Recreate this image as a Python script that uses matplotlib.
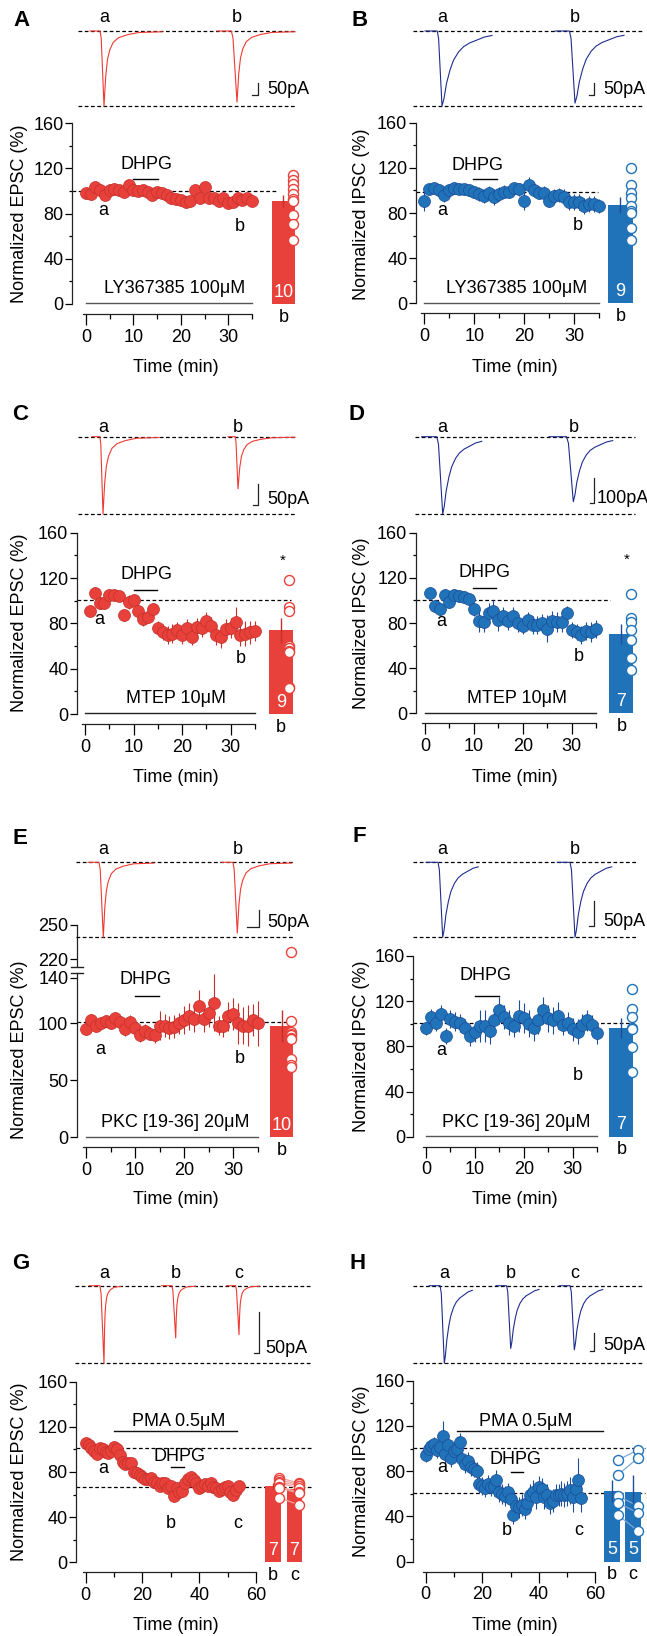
import matplotlib
matplotlib.use('Agg')
import matplotlib.pyplot as plt
from matplotlib.lines import Line2D
import numpy as np

plt.rcParams['font.family'] = ['Liberation Sans', 'DejaVu Sans']
plt.rcParams['font.size'] = 13
plt.rcParams['axes.linewidth'] = 0.9
plt.rcParams['axes.edgecolor'] = '#222222'

W, H = 647, 1636

RED = '#e8413b'
RED_EDGE = '#c4302a'
RED_LIGHT = '#f2a29d'
RED_TRACE = '#ee3a32'
BLUE = '#2173b9'
BLUE_EDGE = '#1d4c98'
BLUE_LIGHT = '#7ea9d8'
BLUE_TRACE = '#1f2d8f'

# ---------------- data ----------------
# A: EPSC, LY367385
A_epsc = [98, 97, 103, 101, 96, 101, 102, 101, 99, 105, 101, 100, 101, 99, 96, 99, 98, 96,
          94, 93, 92, 90, 91, 101, 94, 103, 94, 94, 91, 94, 89, 90, 94, 92, 94, 91]
A_sem = [3, 3, 4, 3, 3, 3, 3, 4, 3, 4, 3, 3, 3, 3, 3, 3, 3, 3,
         3, 3, 4, 3, 3, 4, 3, 4, 3, 3, 4, 3, 3, 3, 3, 4, 3, 3]
A_cells = [114, 110, 106, 102, 97, 93, 91, 79, 71, 57]
A_mean, A_err = 91, 5
A_trace_pA = [312, 296]

# B: IPSC, LY367385
B_ipsc = [91, 101, 102, 100, 96, 100, 102, 101, 101, 100, 99, 97, 95, 98, 94, 97, 99, 99,
          102, 101, 91, 105, 100, 98, 98, 91, 95, 96, 94, 90, 90, 90, 86, 88, 88, 86]
B_sem = [9, 5, 5, 5, 6, 5, 5, 5, 5, 5, 5, 6, 6, 6, 7, 6, 6, 5,
         5, 6, 8, 7, 6, 6, 6, 6, 6, 6, 7, 7, 7, 7, 7, 7, 7, 6]
B_cells = [120, 105, 98, 93, 86, 82, 80, 67, 56]
B_mean, B_err = 87, 7
B_trace_pA = [312, 300]

# C: EPSC, MTEP (first point at 1 min)
C_epsc = [91, 107, 98, 98, 105, 105, 104, 87, 99, 101, 91, 84, 86, 93, 76, 72, 70, 71,
          74, 70, 76, 68, 77, 76, 82, 78, 70, 68, 75, 76, 81, 70, 71, 72, 73]
C_sem = [4, 5, 5, 5, 5, 4, 4, 5, 6, 5, 6, 6, 6, 5, 6, 7, 8, 8,
         7, 8, 8, 7, 8, 8, 8, 8, 9, 10, 9, 9, 13, 10, 11, 10, 9]
C_cells = [118, 94, 91, 60, 58, 56, 55, 24, 23]
C_mean, C_err = 74, 11
C_trace_pA = [184, 124]

# D: IPSC, MTEP (first point at 1 min)
D_ipsc = [107, 95, 92, 105, 99, 105, 104, 103, 101, 92, 82, 81, 89, 91, 83, 86, 82, 86,
          80, 77, 83, 78, 78, 80, 75, 82, 81, 81, 89, 74, 72, 69, 73, 72, 75]
D_sem = [5, 5, 6, 5, 6, 5, 5, 5, 5, 6, 10, 9, 9, 9, 10, 8, 8, 8,
         8, 7, 7, 8, 8, 8, 12, 9, 9, 9, 6, 7, 7, 8, 8, 9, 8]
D_cells = [106, 84, 81, 74, 65, 49, 38]
D_mean, D_err = 70, 9
D_trace_pA = [302, 254]

# E: EPSC, PKC [19-36]
E_epsc = [95, 103, 98, 100, 102, 100, 105, 101, 95, 101, 96, 90, 93, 91, 90, 98, 98, 96,
          97, 100, 103, 106, 104, 115, 104, 109, 118, 98, 98, 106, 108, 100, 98, 98, 103, 100]
E_sem = [5, 5, 5, 5, 5, 5, 5, 5, 6, 6, 6, 6, 6, 6, 7, 13, 10, 10,
         10, 9, 12, 12, 12, 14, 12, 12, 25, 8, 10, 13, 14, 18, 16, 18, 14, 20]
E_cells = [226, 102, 92, 91, 90, 87, 86, 69, 63, 62]
E_mean, E_err = 98, 14
E_trace_pA = [217, 205]

# F: IPSC, PKC [19-36]
F_ipsc = [96, 106, 101, 109, 89, 104, 102, 101, 96, 89, 93, 98, 98, 94, 103, 112, 106, 101,
          98, 107, 105, 100, 96, 103, 112, 105, 103, 107, 99, 101, 95, 93, 99, 103, 99, 92]
F_sem = [6, 7, 7, 8, 7, 8, 8, 8, 8, 9, 9, 14, 14, 12, 10, 12, 11, 11,
         10, 14, 13, 12, 11, 12, 12, 12, 12, 12, 9, 9, 10, 11, 10, 9, 9, 10]
F_cells = [131, 113, 106, 96, 95, 79, 57]
F_mean, F_err = 96, 9
F_trace_pA = [150, 150]

# G: EPSC, PMA
G_epsc = [106, 104, 101, 99, 96, 101, 100, 98, 97, 99, 102, 100, 95, 89, 87, 88, 88, 80,
          79, 77, 76, 74, 74, 75, 71, 70, 68, 70, 70, 66, 68, 59, 66, 62, 63, 70, 74, 76,
          73, 70, 66, 68, 69, 68, 70, 67, 66, 63, 65, 67, 68, 62, 60, 64, 68]
G_sem = [3, 3, 3, 3, 3, 3, 3, 3, 3, 3, 3, 3, 3, 3, 3, 3, 3, 3, 3, 3, 3, 3, 3, 3, 3,
         3, 3, 3, 3, 3, 3, 4, 3, 3, 3, 4, 5, 4, 3, 3, 3, 3, 3, 3, 3, 3, 3, 3, 3, 3,
         3, 3, 3, 3, 4]
G_cells_b = [75, 73, 71, 70, 67, 66, 57]
G_cells_c = [70, 69, 68, 66, 62, 61, 51]
G_mean, G_err = [67.6, 65], [3, 3]
G_trace_pA = [95, 64, 60]

# H: IPSC, PMA
H_ipsc = [94, 100, 102, 104, 99, 101, 111, 95, 103, 92, 98, 100, 106, 91, 86, 89, 84, 82,
          80, 69, 67, 65, 69, 66, 67, 72, 62, 60, 58, 62, 55, 41, 49, 48, 50, 47, 52, 59,
          62, 57, 66, 64, 57, 59, 52, 54, 59, 59, 60, 59, 60, 63, 57, 64, 72, 56]
H_sem = [6, 6, 6, 6, 7, 7, 13, 8, 8, 8, 8, 9, 8, 8, 8, 8, 8, 7, 8, 8, 8, 8, 8, 8, 9,
         9, 9, 9, 9, 8, 9, 8, 8, 9, 10, 9, 10, 10, 10, 10, 10, 10, 10, 10, 10, 10, 10, 10,
         11, 11, 11, 12, 13, 11, 20, 12]
H_cells_b = [90, 77, 58, 52, 41]
H_cells_c = [99, 92, 49, 43, 27]
H_mean, H_err = [62.5, 61.3], [10, 15]
H_trace_pA = [219, 177, 181]

# trace template (fraction of window, fraction of peak)
RISE_U = [0.0, 0.72, 0.8, 1.0]
RISE_I = [0.0, 0.0, -0.1, -1.0]
EPSC_V = [0, 0.03, 0.06, 0.1, 0.16, 0.25, 0.4, 0.6, 1.0]
EPSC_I = [-1, -0.6, -0.38, -0.25, -0.15, -0.09, -0.05, -0.02, -0.01]
IPSC_V = [0, 0.04, 0.09, 0.16, 0.23, 0.33, 0.43, 0.55, 0.7, 0.85, 1.0]
IPSC_I = [-1, -0.9, -0.7, -0.52, -0.39, -0.28, -0.21, -0.16, -0.12, -0.08, -0.06]

# ---------------- layout (pixels) ----------------
P = {
    'A': dict(spine=72, x0=86, ppu=4.74, right=300, y0=304, ytop=123, letter=(21, 21),
              ylabel=(20, 214), xlabel=(176, 368),
              trace_box=(78, 31, 295, 106), trace_win=[(90, 104, 162), (217, 237, 295)],
              trace_lbl_y=18, scalebar=(258, 95, 6), sb_dx=9,
              bar_x=[41.65], bar_w=4.9, cell_x=[43.7], ref=[100], ref_end=40.5,
              dhpg=(12.7, 123, 10, 15.2, 110.7), drug=(18.8, 13.9, 0, 35, 1),
              ab=[(3.6, 83), (32.5, 68.5)], star=None),
    'B': dict(spine=415.7, x0=424.3, ppu=5.0, right=640, y0=303.3, ytop=122.7, letter=(360, 21),
              ylabel=(362, 214), xlabel=(515, 368),
              trace_box=(413, 31, 642, 106), trace_win=[(425, 442, 492), (555, 575, 624)],
              trace_lbl_y=18, scalebar=(594, 95, 5), sb_dx=9,
              bar_x=[39.2], bar_w=5.0, cell_x=[41.3], ref=[99], ref_end=34.8,
              dhpg=(10.7, 122.5, 9.8, 14.6, 110), drug=(18.5, 12.7, 0, 35, 0.5),
              ab=[(3.5, 82.6), (30.7, 69)], star=None),
    'C': dict(spine=76.7, x0=85, ppu=4.857, right=300, y0=714, ytop=532.7, letter=(20, 415),
              ylabel=(20, 623), xlabel=(176, 778),
              trace_box=(78, 436.7, 295, 514), trace_win=[(92, 103, 159), (228, 238, 295)],
              trace_lbl_y=428, scalebar=(258, 505, 5), sb_dx=9,
              bar_x=[40.35], bar_w=4.9, cell_x=[42.1], ref=[101], ref_end=42.4,
              dhpg=(12.6, 123.5, 10, 14.8, 109), drug=(18.7, 14, 0, 35, 1),
              ab=[(3, 83), (32, 49)], star=(40.8, 135)),
    'D': dict(spine=415.7, x0=425, ppu=4.89, right=640, y0=713.3, ytop=532.7, letter=(356.7, 415),
              ylabel=(362, 623), xlabel=(515, 778),
              trace_box=(415, 436.7, 635, 514), trace_win=[(421.7, 442.7, 481.7), (549, 573.3, 612.7)],
              trace_lbl_y=428, scalebar=(594, 503.3, 4), sb_dx=3,
              bar_x=[40.15], bar_w=4.9, cell_x=[42.1], ref=[100], ref_end=37.8,
              dhpg=(12.2, 124.5, 9.75, 14.6, 110.7), drug=(18.75, 13, 0, 35, 0.5),
              ab=[(3.4, 81), (31.5, 50)], star=(41.3, 136)),
    'E': dict(spine=76.7, x0=86, ppu=4.91, right=300, y0=1137.3, yppu=1.14, letter=(20, 838.3),
              ylabel=(20, 1050), xlabel=(176, 1200),
              trace_box=(76, 862.3, 293, 937.3), trace_win=[(88, 103.3, 154), (221.7, 237.3, 291.7)],
              trace_lbl_y=850, scalebar=(259.3, 927.3, 12), sb_dx=8,
              bar_x=[39.85], bar_w=4.7, cell_x=[41.7], ref=[101.4], ref_end=42.2,
              dhpg=(12.2, 138.6, 10, 14.9, 124), drug=(18.1, 12.8, 0, 35, 0.5),
              ab=[(2.85, 76.6), (31.4, 69.3)], star=None),
    'F': dict(spine=413.3, x0=426, ppu=4.89, right=640, y0=1136.7, ytop=956, letter=(359.3, 836.7),
              ylabel=(362, 1046), xlabel=(515, 1200),
              trace_box=(413.3, 862.3, 636, 937.3), trace_win=[(426, 442.7, 478.3), (557.3, 575, 611.7)],
              trace_lbl_y=850, scalebar=(594, 926, 5), sb_dx=9,
              bar_x=[39.95], bar_w=4.9, cell_x=[42.1], ref=[100.4], ref_end=42.5,
              dhpg=(12.2, 143, 10, 15, 124.8), drug=(18.4, 12.4, 0, 35, 0.5),
              ab=[(3.2, 76), (31, 54.6)], star=None),
    'G': dict(spine=76, x0=85.7, ppu=2.839, right=312, y0=1562.3, ytop=1381.7, letter=(20.7, 1263.3),
              ylabel=(20, 1472), xlabel=(176, 1626),
              trace_box=(75, 1285.7, 310, 1363.3),
              trace_win=[(89.3, 104, 120.7), (161.7, 175.7, 195.7), (226.7, 239, 259.3)],
              trace_lbl_y=1274, scalebar=(259.3, 1353.3, 5), sb_dx=6.5,
              bar_x=[66.05, 73.55], bar_w=5.5, cell_x=[68.2, 75.2], ref=[101.5, 66.4], ref_end=79.2,
              dhpg=(33.2, 94, 30, 34.7, 84.7), pma=(32.6, 124.5, 10, 53.4, 116.3),
              ab=[(6.2, 83), (30, 34), (53.4, 34)], star=None),
    'H': dict(spine=413.3, x0=425.7, ppu=2.827, right=647, y0=1561.7, ytop=1380.7, letter=(357.3, 1263.3),
              ylabel=(362, 1471), xlabel=(515, 1626),
              trace_box=(413.3, 1285.7, 641.7, 1363.3),
              trace_win=[(429.3, 444.3, 472.3), (496, 510.7, 539), (559.3, 574.3, 602.7)],
              trace_lbl_y=1274, scalebar=(594, 1351, 4), sb_dx=9,
              bar_x=[65.95, 73.35], bar_w=5.7, cell_x=[68.1, 75.2], ref=[100.8, 60.4], ref_end=77.6,
              dhpg=(31.9, 90, 30, 34.5, 79), pma=(35.5, 123.8, 11, 62.6, 115.5),
              ab=[(5.8, 83.4), (28.6, 28), (54, 28)], star=None),
}

MS = 8.6      # time-course marker size (pt)
CELL_MS = 7.2

fig = plt.figure(figsize=(W / 100, H / 100), dpi=100)


def rect(l, t, r, b):
    return [l / W, 1 - b / H, (r - l) / W, (b - t) / H]


def ptext(x, y, s, **kw):
    kw.setdefault('ha', 'center')
    kw.setdefault('va', 'center')
    fig.text(x / W, 1 - y / H, s, **kw)


def make_axes(L, ylim, top_px, bottom_px):
    ax = fig.add_axes(rect(L['spine'], top_px, L['right'], bottom_px))
    ax.set_xlim((L['spine'] - L['x0']) / L['ppu'], (L['right'] - L['x0']) / L['ppu'])
    ax.set_ylim(*ylim)
    ax.patch.set_visible(False)
    for s in ('top', 'right'):
        ax.spines[s].set_visible(False)
    return ax


def value_axis(ax, bounds, major, minor):
    ax.spines['left'].set_bounds(*bounds)
    ax.set_yticks(major)
    ax.set_yticks(minor, minor=True)
    ax.tick_params(axis='y', which='major', length=5, width=0.9, pad=1, labelsize=13)
    ax.tick_params(axis='y', which='minor', length=2.5, width=0.9)


def time_axis(ax, start, end, major, minor):
    ax.spines['bottom'].set_position(('outward', 7.2))
    ax.spines['bottom'].set_bounds(start, end)
    ax.set_xticks(major)
    ax.set_xticks(minor, minor=True)
    ax.tick_params(axis='x', which='major', length=8, width=0.9, pad=2.5, labelsize=13)
    ax.tick_params(axis='x', which='minor', length=3.5, width=0.9)


def timecourse(ax, t, v, sem, face, edge):
    ax.errorbar(t, v, yerr=sem, fmt='none', ecolor=edge, elinewidth=0.8, capsize=0,
                zorder=2, clip_on=False)
    ax.plot(t, v, 'o', ms=MS, mfc=face, mec=edge, mew=0.5, zorder=3, clip_on=False)


def summary(ax, xc, width, mean, err, cells, cx, face, edge, below, name):
    ax.bar(xc, mean, width, color=face, zorder=2)
    ax.errorbar(xc, mean, yerr=err, fmt='none', ecolor=edge, elinewidth=1, capsize=0, zorder=3)
    ax.plot(np.full(len(cells), cx), cells, 'o', ms=CELL_MS, mfc='white', mec=face, mew=1,
            zorder=4)
    ax.text(xc, 10.5, str(len(cells)), color='white', ha='center', va='center', zorder=5)
    ax.text(xc, below, name, ha='center', va='center', clip_on=False)


def annotate(ax, L, drug_name, drug_color):
    x, y, x1, x2, yl = L['dhpg']
    ax.text(x, y, 'DHPG', ha='center', va='center')
    ax.plot([x1, x2], [yl, yl], color='k', lw=1, clip_on=False)
    if drug_name.startswith('PMA'):
        x, y, x1, x2, yl = L['pma']
    else:
        x, y, x1, x2, yl = L['drug']
    ax.text(x, y, drug_name, ha='center', va='center')
    ax.plot([x1, x2], [yl, yl], color=drug_color, lw=1, clip_on=False)
    for (x, y), s in zip(L['ab'], 'abc'):
        ax.text(x, y, s, ha='center', va='center')
    if L['star']:
        ax.text(L['star'][0], L['star'][1], '*', ha='center', va='center', fontsize=11)
    x0 = ax.get_xlim()[0]
    for r in L['ref']:
        ax.plot([x0, L['ref_end']], [r, r], color='k', lw=0.9, dashes=(3, 2), zorder=1,
                clip_on=False)


def traces(key, amps, color, dec_v, dec_i, scale_pa, scale_txt):
    L = P[key]
    l, t, r, b = L['trace_box']
    ax = fig.add_axes(rect(l, t, r, b))
    ax.set_xlim(l, r)
    ax.set_ylim(-amps[0], 0)
    ax.axis('off')
    for yv in (0, -amps[0]):
        ax.axhline(yv, color='k', lw=0.9, dashes=(3, 2), clip_on=False)
    ru = np.array(RISE_U)
    dv = np.array(dec_v)
    for (s, p, e), amp, nm in zip(L['trace_win'], amps, 'abc'):
        x = np.concatenate([s + ru * (p - s), p + dv[1:] * (e - p)])
        y = amp * np.concatenate([RISE_I, dec_i[1:]])
        ax.plot(x, y, color=color, lw=0.8, clip_on=False)
        ptext(p, L['trace_lbl_y'], nm)
    sx, sby, foot = L['scalebar']
    yb = -(sby - t) / (b - t) * amps[0]
    ax.plot([sx - foot, sx, sx], [yb, yb, yb + scale_pa], color='#222222', lw=0.9,
            clip_on=False)
    ptext(sx + L['sb_dx'], sby - 5, scale_txt, ha='left')


def standard_panel(key, t, v, sem, mean, err, cells, face, edge, drug, drug_color, ylab):
    L = P[key]
    ax = make_axes(L, (0, 160), L['ytop'], L['y0'])
    value_axis(ax, (0, 160), [0, 40, 80, 120, 160], [20, 60, 100, 140])
    time_axis(ax, -0.6, 35, [0, 10, 20, 30], [5, 15, 25, 35])
    timecourse(ax, t, v, sem, face, edge)
    below = -13 * 160 / (L['y0'] - L['ytop'])
    summary(ax, L['bar_x'][0], L['bar_w'], mean, err, cells, L['cell_x'][0], face, edge, below, 'b')
    annotate(ax, L, drug, drug_color)
    ptext(L['ylabel'][0], L['ylabel'][1], ylab, rotation=90)
    ptext(L['xlabel'][0], L['xlabel'][1], 'Time (min)')
    return ax


t35 = list(range(0, 36))
t35_from1 = list(range(1, 36))

standard_panel('A', t35, A_epsc, A_sem, A_mean, A_err, A_cells, RED, RED_EDGE,
               'LY367385 100μM', '#555555', 'Normalized EPSC (%)')
standard_panel('B', t35, B_ipsc, B_sem, B_mean, B_err, B_cells, BLUE, BLUE_EDGE,
               'LY367385 100μM', '#555555', 'Normalized IPSC (%)')
standard_panel('C', t35_from1, C_epsc, C_sem, C_mean, C_err, C_cells, RED, RED_EDGE,
               'MTEP 10μM', '#222222', 'Normalized EPSC (%)')
standard_panel('D', t35_from1, D_ipsc, D_sem, D_mean, D_err, D_cells, BLUE, BLUE_EDGE,
               'MTEP 10μM', '#222222', 'Normalized IPSC (%)')
standard_panel('F', t35, F_ipsc, F_sem, F_mean, F_err, F_cells, BLUE, BLUE_EDGE,
               'PKC [19-36] 20μM', '#555555', 'Normalized IPSC (%)')

# E: broken y axis
L = P['E']
lo_top = L['y0'] - 144 * L['yppu']
ax_lo = make_axes(L, (0, 144), lo_top, L['y0'])
value_axis(ax_lo, (0, 144), [0, 50, 100, 140], [])
time_axis(ax_lo, -0.6, 35, [0, 10, 20, 30], [5, 15, 25, 35])
timecourse(ax_lo, t35, E_epsc, E_sem, RED, RED_EDGE)
ax_lo.bar(L['bar_x'][0], E_mean, L['bar_w'], color=RED, zorder=2)
ax_lo.errorbar(L['bar_x'][0], E_mean, yerr=E_err, fmt='none', ecolor=RED_EDGE, elinewidth=1,
               capsize=0, zorder=3)
ax_lo.plot(np.full(len(E_cells), L['cell_x'][0]), E_cells, 'o', ms=CELL_MS, mfc='white', mec=RED,
           mew=1, zorder=4)
ax_lo.text(L['bar_x'][0], 10.5, str(len(E_cells)), color='white', ha='center', va='center', zorder=5)
ax_lo.text(L['bar_x'][0], -13 / L['yppu'], 'b', ha='center', va='center', clip_on=False)
annotate(ax_lo, L, 'PKC [19-36] 20μM', '#555555')
up_top = 925
ax_up = make_axes(L, (214, 250), up_top, up_top + 36 * L['yppu'])
value_axis(ax_up, (214, 250), [220, 250], [])
ax_up.spines['bottom'].set_visible(False)
ax_up.set_xticks([])
ax_up.plot(np.full(len(E_cells), L['cell_x'][0]), E_cells, 'o', ms=CELL_MS, mfc='white', mec=RED,
           mew=1, zorder=4)
for yb in (up_top + 36 * L['yppu'] + 0.5, lo_top - 0.5):
    fig.add_artist(Line2D([(L['spine'] - 6) / W, (L['spine'] + 6) / W], [1 - yb / H, 1 - yb / H],
                          color='#222222', lw=1.0))
ptext(L['ylabel'][0], L['ylabel'][1], 'Normalized EPSC (%)', rotation=90)
ptext(L['xlabel'][0], L['xlabel'][1], 'Time (min)')


def pma_panel(key, v, sem, means, errs, cells_b, cells_c, face, edge, light, ylab):
    L = P[key]
    ax = make_axes(L, (0, 160), L['ytop'], L['y0'])
    value_axis(ax, (0, 160), [0, 40, 80, 120, 160], [20, 60, 100, 140])
    time_axis(ax, -0.9, 60, [0, 20, 40, 60], [10, 30, 50])
    timecourse(ax, list(range(len(v))), v, sem, face, edge)
    below = -13 * 160 / (L['y0'] - L['ytop'])
    xb, xc = L['cell_x']
    for yb_, yc_ in zip(cells_b, cells_c):
        ax.plot([xb, xc], [yb_, yc_], color=light, lw=0.9, zorder=3)
    for i, (cells, nm) in enumerate(zip([cells_b, cells_c], 'bc')):
        summary(ax, L['bar_x'][i], L['bar_w'], means[i], errs[i], cells, L['cell_x'][i],
                face, edge, below, nm)
    annotate(ax, L, 'PMA 0.5μM', '#111111')
    ptext(L['ylabel'][0], L['ylabel'][1], ylab, rotation=90)
    ptext(L['xlabel'][0], L['xlabel'][1], 'Time (min)')


pma_panel('G', G_epsc, G_sem, G_mean, G_err, G_cells_b, G_cells_c, RED, RED_EDGE, RED_LIGHT,
          'Normalized EPSC (%)')
pma_panel('H', H_ipsc, H_sem, H_mean, H_err, H_cells_b, H_cells_c, BLUE, BLUE_EDGE, BLUE_LIGHT,
          'Normalized IPSC (%)')

# example traces
traces('A', A_trace_pA, RED_TRACE, EPSC_V, EPSC_I, 50, '50pA')
traces('B', B_trace_pA, BLUE_TRACE, IPSC_V, IPSC_I, 50, '50pA')
traces('C', C_trace_pA, RED_TRACE, EPSC_V, EPSC_I, 50, '50pA')
traces('D', D_trace_pA, BLUE_TRACE, IPSC_V, IPSC_I, 100, '100pA')
traces('E', E_trace_pA, RED_TRACE, EPSC_V, EPSC_I, 50, '50pA')
traces('F', F_trace_pA, BLUE_TRACE, IPSC_V, IPSC_I, 50, '50pA')
traces('G', G_trace_pA, RED_TRACE, EPSC_V, EPSC_I, 50, '50pA')
traces('H', H_trace_pA, BLUE_TRACE, IPSC_V, IPSC_I, 50, '50pA')

for k in P:
    ptext(P[k]['letter'][0], P[k]['letter'][1], k, fontsize=16, fontweight='bold')

fig.savefig('out.png', dpi=100)
